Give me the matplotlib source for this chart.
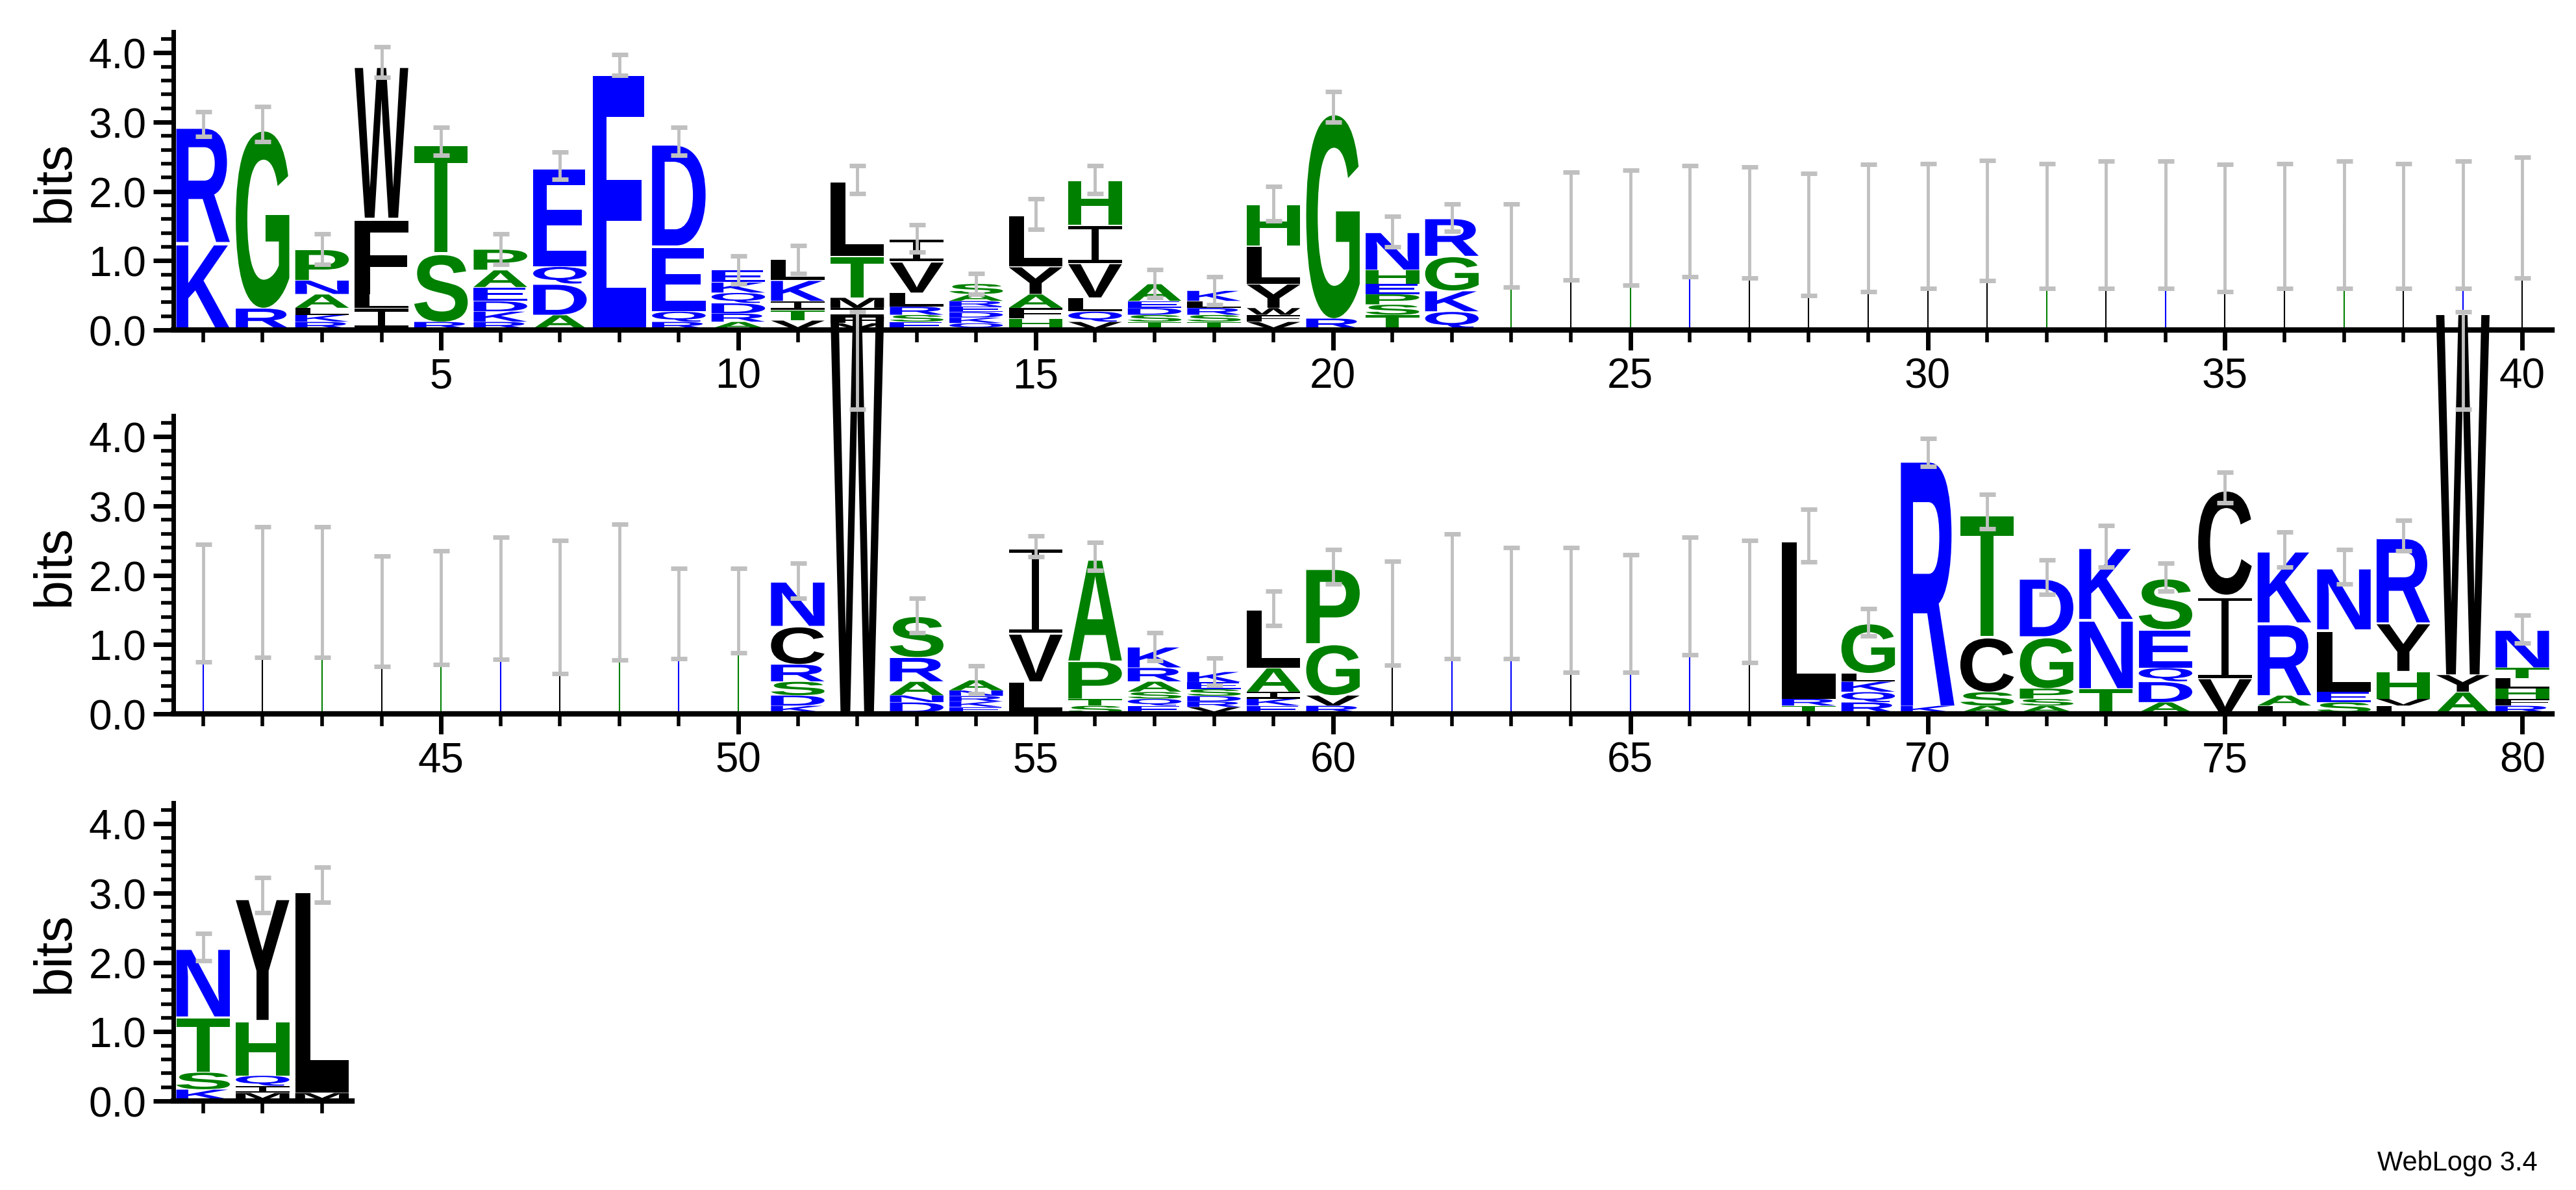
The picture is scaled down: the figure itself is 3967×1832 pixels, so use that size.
import matplotlib
matplotlib.use("Agg")
import matplotlib.pyplot as plt
from matplotlib.textpath import TextPath
from matplotlib.patches import PathPatch, Rectangle
from matplotlib.font_manager import FontProperties
from matplotlib.transforms import Affine2D
from matplotlib.ticker import MultipleLocator

plt.rcParams['font.family'] = ['Liberation Sans', 'DejaVu Sans']

# stacked columns: position, letters bottom->top, heights (bits), error half-width
stack_pos = [1, 2, 3, 4, 5, 6, 7, 8, 9, 10, 11, 12, 13, 14, 15, 16, 17, 18, 19, 20, 21, 22,
             51, 52, 53, 54, 55, 56, 57, 58, 59, 60,
             68, 69, 70, 71, 72, 73, 74, 75, 76, 77, 78, 79, 80,
             81, 82, 83]
stack_letters = ["KR", "RG", "RKLANP", "ILFW", "RST", "RKDEAP", "ADQE", "E", "RQED", "ARDQKE",
                 "VTIKL", "VFIMTL", "ESRLVI", "QKDERAS", "HFAYL", "VQLVIH", "TSDEA", "TSRLK",
                 "VFWYLH", "RG", "TSPEHN", "QKGR",
                 "KDSRCN", "W", "DNARS", "EKRNA", "LVI", "STPA", "EQSARK", "VRDSEK", "EKIAL", "RVGP",
                 "TRL", "RQKLG", "KR", "ASCT", "ASPGD", "TNK", "ADQES", "VIC", "LARK", "SELN",
                 "LVHYR", "AYW", "RFHLTN",
                 "KSTN", "MIQHY", "ML"]
stack_heights = [
    [1.25, 1.7], [0.3, 2.65], [0.1, 0.1, 0.1, 0.2, 0.2, 0.45], [0.3, 0.2, 1.1, 2.25],
    [0.1, 1.0, 1.6], [0.1, 0.15, 0.15, 0.2, 0.25, 0.3], [0.2, 0.45, 0.25, 1.45], [3.8],
    [0.1, 0.15, 0.95, 1.5], [0.1, 0.12, 0.15, 0.15, 0.15, 0.18], [0.12, 0.15, 0.13, 0.3, 0.3],
    [0.08, 0.1, 0.12, 0.15, 0.6, 1.1], [0.1, 0.1, 0.12, 0.2, 0.45, 0.33],
    [0.08, 0.08, 0.08, 0.08, 0.08, 0.1, 0.15], [0.15, 0.15, 0.2, 0.4, 0.75],
    [0.1, 0.15, 0.2, 0.5, 0.55, 0.65], [0.1, 0.1, 0.1, 0.1, 0.25], [0.1, 0.1, 0.1, 0.1, 0.15],
    [0.1, 0.1, 0.1, 0.35, 0.55, 0.6], [0.15, 3.05], [0.2, 0.15, 0.15, 0.15, 0.2, 0.55],
    [0.25, 0.3, 0.5, 0.55],
    [0.1, 0.15, 0.2, 0.25, 0.55, 0.65], [5.95], [0.15, 0.1, 0.2, 0.35, 0.6],
    [0.08, 0.08, 0.08, 0.08, 0.15], [0.45, 0.7, 1.25], [0.1, 0.1, 0.55, 1.5],
    [0.1, 0.1, 0.1, 0.15, 0.2, 0.3], [0.08, 0.08, 0.08, 0.1, 0.1, 0.15], [0.1, 0.1, 0.1, 0.35, 0.85],
    [0.1, 0.15, 0.75, 1.1],
    [0.1, 0.1, 2.35], [0.15, 0.15, 0.15, 0.12, 0.73], [0.1, 3.65], [0.1, 0.2, 0.8, 1.8],
    [0.1, 0.1, 0.15, 0.75, 0.85], [0.35, 1.0, 1.05], [0.15, 0.3, 0.2, 0.55, 0.75], [0.5, 1.2, 1.55],
    [0.1, 0.15, 1.05, 1.05], [0.15, 0.15, 0.9, 0.9], [0.1, 0.1, 0.4, 0.7, 1.25], [0.3, 0.25, 5.4],
    [0.1, 0.1, 0.15, 0.15, 0.15, 0.55],
    [0.15, 0.25, 0.8, 1.0], [0.1, 0.1, 0.15, 0.8, 1.8], [0.1, 3.0]]
stack_err = [0.18, 0.25, 0.22, 0.22, 0.2, 0.22, 0.2, 0.15, 0.2, 0.2, 0.2, 0.2, 0.2, 0.15, 0.22, 0.2,
             0.2, 0.2, 0.25, 0.22, 0.22, 0.2,
             0.25, 0.0, 0.25, 0.2, 0.15, 0.2, 0.2, 0.2, 0.25, 0.25,
             0.38, 0.2, 0.2, 0.25, 0.25, 0.3, 0.2, 0.22, 0.25, 0.25, 0.22, 0.0, 0.2,
             0.2, 0.25, 0.25]

# near-empty (gappy) columns drawn as thin lines
thin_pos = [23, 24, 25, 26, 27, 28, 29, 30, 31, 32, 33, 34, 35, 36, 37, 38, 39, 40,
            41, 42, 43, 44, 45, 46, 47, 48, 49, 50, 61, 62, 63, 64, 65, 66, 67]
thin_height = [1.22, 1.5, 1.48, 1.57, 1.55, 1.38, 1.47, 1.5, 1.58, 1.5, 1.52, 1.52, 1.47, 1.5, 1.52,
               1.5, 1.52, 1.62,
               1.6, 1.76, 1.76, 1.48, 1.53, 1.67, 1.54, 1.76, 1.45, 1.49,
               1.45, 1.7, 1.6, 1.5, 1.45, 1.7, 1.62]
thin_err = [0.6, 0.78, 0.83, 0.8, 0.8, 0.88, 0.92, 0.9, 0.87, 0.9, 0.92, 0.92, 0.92, 0.9, 0.92,
            0.9, 0.92, 0.87,
            0.85, 0.94, 0.94, 0.8, 0.82, 0.88, 0.96, 0.98, 0.65, 0.61,
            0.75, 0.9, 0.8, 0.9, 0.85, 0.85, 0.88]
thin_color = ["g", "k", "g", "b", "k", "k", "k", "k", "k", "g", "k", "b", "k", "k", "g", "k", "b", "k",
              "b", "k", "g", "k", "g", "b", "k", "g", "b", "g",
              "k", "b", "b", "k", "b", "b", "k"]

BLUE, GREEN, BLACK = "#0000ff", "#008000", "#000000"
letter_color = {}
for c in "RKDENQ":
    letter_color[c] = BLUE
for c in "GSTAPH":
    letter_color[c] = GREEN
for c in "WFLIVYCM":
    letter_color[c] = BLACK
short_color = {"b": BLUE, "g": GREEN, "k": BLACK}

FP = FontProperties(family="Liberation Sans", weight="bold")


def draw_letter(ax, ch, xc, y0, h, color, w=0.9):
    if ch == "I":
        # serif I like WebLogo: stem plus top and bottom bars
        bar = min(0.045, 0.2 * h)
        stem = 0.12
        kw = dict(fc=color, ec="none", clip_on=False, zorder=2)
        ax.add_patch(Rectangle((xc - w / 2, y0), w, bar, **kw))
        ax.add_patch(Rectangle((xc - w / 2, y0 + h - bar), w, bar, **kw))
        ax.add_patch(Rectangle((xc - stem / 2, y0), stem, h, **kw))
        return
    tp = TextPath((0, 0), ch, size=1, prop=FP)
    bb = tp.get_extents()
    tr = (Affine2D().translate(-bb.x0, -bb.y0)
          .scale(w / bb.width, h / bb.height).translate(xc - w / 2, y0))
    ax.add_patch(PathPatch(tr.transform_path(tp), fc=color, ec="none",
                           clip_on=False, zorder=2))


fig = plt.figure(figsize=(39.67, 18.33), dpi=100)
left, full_w = 0.0673, 0.9234
row_bottoms = [1 - 509 / 1833, 1 - 1100 / 1833, 1 - 1696 / 1833]
ax_h = 4.3 * 106.7 / 1833
row_ranges = [(0.5, 40.5), (40.5, 80.5), (80.5, 83.5)]
axes = []
for i, (lo, hi) in enumerate(row_ranges):
    ax = fig.add_axes([left, row_bottoms[i], full_w * (hi - lo) / 40, ax_h])
    ax.set_xlim(lo, hi)
    ax.set_ylim(0, 4.3)
    for s in ["top", "right"]:
        ax.spines[s].set_visible(False)
    ax.spines["left"].set_linewidth(5)
    ax.spines["bottom"].set_linewidth(6)
    ax.yaxis.set_minor_locator(MultipleLocator(0.2))
    ax.set_yticks([0, 1, 2, 3, 4])
    ax.set_yticklabels(["0.0", "1.0", "2.0", "3.0", "4.0"])
    ax.xaxis.set_minor_locator(MultipleLocator(1))
    ax.xaxis.set_major_locator(MultipleLocator(5))
    ax.tick_params(axis="both", which="major", length=22, width=5, labelsize=46, pad=8)
    ax.tick_params(axis="x", which="minor", length=14, width=4)
    ax.tick_params(axis="y", which="minor", length=14, width=4)
    if i == 2:
        ax.set_xticklabels([])
    ax.set_ylabel("bits", fontsize=58, labelpad=10)
    ax.patch.set_alpha(0)
    axes.append(ax)


def ax_for(p):
    return axes[min((p - 1) // 40, 2)]


ex, ey, elo, ehi = {0: [], 1: [], 2: []}, {0: [], 1: [], 2: []}, {0: [], 1: [], 2: []}, {0: [], 1: [], 2: []}

for p, letters, hs, e in zip(stack_pos, stack_letters, stack_heights, stack_err):
    ax = ax_for(p)
    y = 0.02
    for ch, h in zip(letters, hs):
        draw_letter(ax, ch, p, y, h * 0.96, letter_color[ch])
        y += h
    r = min((p - 1) // 40, 2)
    if ch == "W" and h > 4.5:
        ex[r].append(p); ey[r].append(5.8); elo[r].append(1.4); ehi[r].append(0.0)
    else:
        ex[r].append(p); ey[r].append(y); elo[r].append(e); ehi[r].append(e)

for p, h, e, c in zip(thin_pos, thin_height, thin_err, thin_color):
    ax = ax_for(p)
    ax.vlines(p, 0.02, h, colors=short_color[c], lw=1.5, zorder=2)
    r = min((p - 1) // 40, 2)
    ex[r].append(p); ey[r].append(h); elo[r].append(e); ehi[r].append(e)

for r, ax in enumerate(axes):
    ax.errorbar(ex[r], ey[r], yerr=[elo[r], ehi[r]], fmt="none", ecolor="#c0c0c0",
                elinewidth=3.5, capsize=9, capthick=5, zorder=3, clip_on=False)

fig.text(0.985, 0.012, "WebLogo 3.4", ha="right", va="bottom", fontsize=30)
fig.savefig("out.png", dpi=100)
